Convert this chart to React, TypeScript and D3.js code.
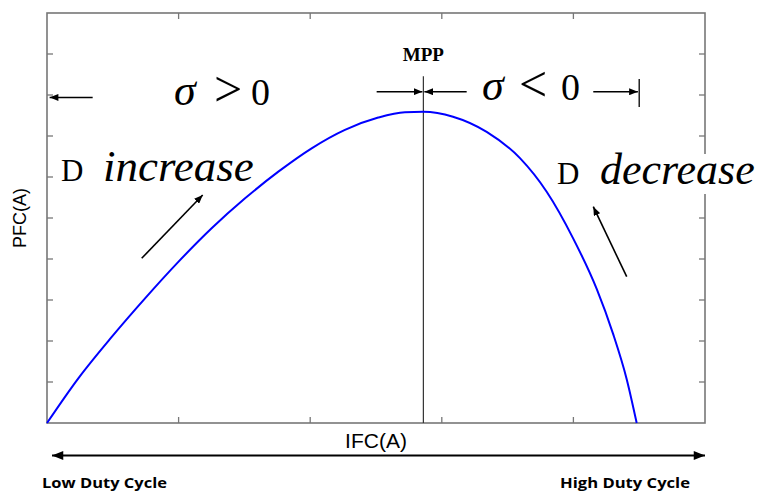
import React from 'react'
import * as d3 from 'd3'

// P-I curve of the fuel cell (IFC in grid units, PFC in grid units)
const ifc = [0, 0.238, 0.492, 0.745, 0.998, 1.251, 1.505, 1.758, 2.011, 2.264, 2.517, 2.72, 2.86, 3.085, 3.341, 3.594, 3.797, 3.997, 4.177, 4.301, 4.405, 4.481]
const pfc = [0, 1.09, 2.1, 3.04, 3.93, 4.75, 5.48, 6.13, 6.7, 7.15, 7.45, 7.58, 7.59, 7.47, 7.1, 6.46, 5.64, 4.51, 3.27, 2.18, 1.07, 0]
const xTicks = [1, 2, 3, 4]
const yTicks = [1, 2, 3, 4, 5, 6, 7, 8, 9]
const mppX = 2.86

const W = 759
const H = 493
const margin = { top: 13, right: 54, bottom: 70, left: 47 }

const App: React.FC = () => {
  const x = d3.scaleLinear().domain([0, 5]).range([margin.left, W - margin.right])
  const y = d3.scaleLinear().domain([0, 10]).range([H - margin.bottom, margin.top])
  const points = ifc.map((v, i) => [v, pfc[i]] as [number, number])
  const line = d3
    .line<[number, number]>()
    .x((d) => x(d[0]))
    .y((d) => y(d[1]))
    .curve(d3.curveMonotoneX)

  const x0 = x(0)
  const x1 = x(5)
  const y0 = y(0)
  const y1 = y(10)
  const tick = 6
  const frame = '#777'

  return (
    <div style={{ position: 'absolute', left: 0, top: 0 }}>
      <svg width={W} height={H} style={{ display: 'block', background: '#fff' }}>
        <defs>
          <marker id="ah" viewBox="0 0 10 8" refX="10" refY="4" markerWidth="9" markerHeight="7"
            markerUnits="userSpaceOnUse" orient="auto-start-reverse">
            <path d="M0,0 L10,4 L0,8 z" fill="#000" />
          </marker>
          <marker id="ahBig" viewBox="0 0 10 8" refX="10" refY="4" markerWidth="12" markerHeight="9"
            markerUnits="userSpaceOnUse" orient="auto-start-reverse">
            <path d="M0,0 L10,4 L0,8 z" fill="#000" />
          </marker>
        </defs>

        {/* frame and inward ticks */}
        <rect x={x0} y={y1} width={x1 - x0} height={y0 - y1} fill="none" stroke={frame} strokeWidth={1.6} />
        {xTicks.map((t) => (
          <g key={'x' + t} stroke={frame} strokeWidth={1.3}>
            <line x1={x(t)} x2={x(t)} y1={y0} y2={y0 - tick} />
            <line x1={x(t)} x2={x(t)} y1={y1} y2={y1 + tick} />
          </g>
        ))}
        {yTicks.map((t) => (
          <g key={'y' + t} stroke={frame} strokeWidth={1.3}>
            <line x1={x0} x2={x0 + tick} y1={y(t)} y2={y(t)} />
            <line x1={x1} x2={x1 - tick} y1={y(t)} y2={y(t)} />
          </g>
        ))}

        {/* MPP vertical */}
        <line x1={x(mppX)} x2={x(mppX)} y1={y(8.46)} y2={y0} stroke="#333" strokeWidth={1.2} />

        {/* curve */}
        <path d={line(points) ?? ''} fill="none" stroke="#0000ff" strokeWidth={2} />

        {/* region arrows */}
        <g stroke="#000" strokeWidth={1.6}>
          <line x1={x(0.347)} x2={x(0.02)} y1={y(7.94)} y2={y(7.94)} markerEnd="url(#ah)" />
          <line x1={x(2.505)} x2={x(mppX) - 1} y1={y(8.08)} y2={y(8.08)} markerEnd="url(#ah)" />
          <line x1={x(3.189)} x2={x(mppX) + 1} y1={y(8.08)} y2={y(8.08)} markerEnd="url(#ah)" />
          <line x1={x(4.151)} x2={x(4.49)} y1={y(8.08)} y2={y(8.08)} markerEnd="url(#ah)" />
          <line x1={x(4.5)} x2={x(4.5)} y1={y(8.39)} y2={y(7.71)} strokeWidth={1.3} />
          <line x1={141.7} x2={202.7} y1={258.3} y2={195} markerEnd="url(#ah)" />
          <line x1={626.7} x2={593.3} y1={276.7} y2={206.7} markerEnd="url(#ah)" />
        </g>

        <text x={x(mppX)} y={61} textAnchor="middle" fontFamily="Liberation Serif" fontWeight="bold" fontSize={19}>MPP</text>

        {/* sigma labels */}
        <g fontFamily="Liberation Serif" fill="#000">
          <text x={174} y={105} fontSize={44} fontStyle="italic">σ</text>
          <text x={214} y={106} fontSize={50}>&gt;</text>
          <text x={251} y={105} fontSize={38}>0</text>
          <text x={482} y={100} fontSize={44} fontStyle="italic">σ</text>
          <text x={519} y={101} fontSize={50}>&lt;</text>
          <text x={561} y={100} fontSize={38}>0</text>
        </g>

        {/* duty labels */}
        <g fontFamily="Liberation Serif" fill="#000">
          <text x={61} y={181} fontSize={31}>D</text>
          <text x={103} y={181} fontSize={45} fontStyle="italic">increase</text>
          <rect x={552} y={154} width={207} height={40} fill="#fff" />
          <text x={557} y={184} fontSize={31}>D</text>
          <text x={600} y={184} fontSize={44} fontStyle="italic">decrease</text>
        </g>

        {/* axis titles */}
        <text x={376} y={448} textAnchor="middle" fontFamily="Liberation Sans" fontSize={21}>IFC(A)</text>
        <text transform="translate(26,218) rotate(-90)" textAnchor="middle" fontFamily="Liberation Sans" fontSize={18}>PFC(A)</text>

        {/* duty cycle arrow */}
        <line x1={x0 + 5} x2={x1} y1={455.5} y2={455.5} stroke="#000" strokeWidth={2}
          markerStart="url(#ahBig)" markerEnd="url(#ahBig)" />
        <text x={42} y={488} fontFamily="Open Sans" fontWeight="bold" fontSize={15} textLength={125} lengthAdjust="spacingAndGlyphs">Low Duty Cycle</text>
        <text x={560} y={488} fontFamily="Open Sans" fontWeight="bold" fontSize={15} textLength={130} lengthAdjust="spacingAndGlyphs">High Duty Cycle</text>
      </svg>
    </div>
  )
}

export default App
